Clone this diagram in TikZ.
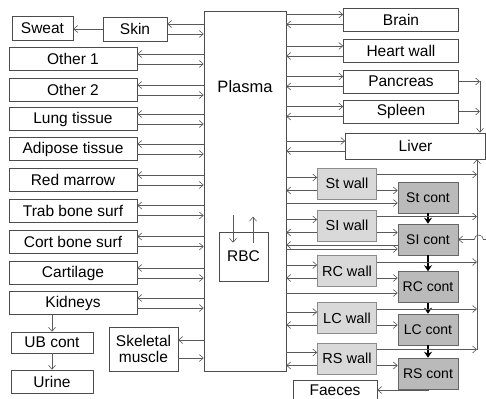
\documentclass[tikz,border=0pt]{standalone}
\usepackage{fontspec}
\setmainfont{Liberation Sans}
\usepackage{tikz}
\usetikzlibrary{arrows.meta, calc, positioning}
\newcommand\fsmain{\fontsize{15.5}{16}\selectfont}
\newcommand\fswall{\fontsize{14.5}{15}\selectfont}
\newcommand\fscont{\fontsize{14}{15}\selectfont}
\tikzset{
  box/.style={draw=black!70, fill=white, inner sep=0pt, font=\fsmain, line width=0.6pt},
  wallbox/.style={box, draw=black!45, fill=black!15, minimum width=59, minimum height=31, font=\fswall},
  contbox/.style={box, draw=black!60, fill=black!27, minimum width=60, minimum height=31, font=\fscont},
  fw/.style={draw=black!65, line width=0.6pt, -{Straight Barb[length=4pt,width=7pt]}},
  bw/.style={draw=black!65, line width=0.6pt, {Straight Barb[length=4pt,width=7pt]}-},
  chain/.style={line width=1.4pt, -{Stealth[length=6pt,width=8pt]}}
}
\begin{document}
\begin{tikzpicture}[x=1pt, y=-1pt]
  \useasboundingbox[fill=white] (0,0) rectangle (486,398);

  % Plasma und RBC
  \node[box, minimum width=82, minimum height=360] (plasma) at (245,191) {};
  \node[font=\fontsize{16.5}{17}\selectfont] (plab) at (245,87) {Plasma};
  \node[box, minimum width=49, minimum height=49] (rbc) at (243.5,256.5) {RBC};

  % linke Organe
  \node[box, minimum width=61, minimum height=24] (sweat) at (42.5,28) {Sweat};
  \node[box, minimum width=64, minimum height=24] (skin) at (135,29) {Skin};
  \foreach \n/\y/\t in {oth1/59/Other 1, oth2/90/Other 2, lung/119/Lung tissue,
                        adip/149/Adipose tissue, marr/180/Red marrow,
                        trab/210.5/Trab bone surf, cort/241.5/Cort bone surf,
                        cart/273/Cartilage, kidn/303/Kidneys} {
    \node[box, minimum width=128, minimum height=23] (\n) at (73,\y) {\t};
  }
  \node[box, minimum width=82, minimum height=21] (ubc) at (52,342.5) {UB cont};
  \node[box, minimum width=82, minimum height=23] (urine) at (52,381.5) {Urine};
  \node[box, minimum width=69, minimum height=44, align=center] (skel) at (143.5,349)
    {Skeletal\\muscle};

  % rechte Organe
  \foreach \n/\y/\t in {brain/19.5/Brain, heart/51/Heart wall,
                        panc/81.5/Pancreas, spleen/111.5/Spleen} {
    \node[box, minimum width=115, minimum height=23] (\n) at (401,\y) {\t};
  }
  \node[box, minimum width=140, minimum height=26] (liver) at (415.5,146) {Liver};

  % Darmwand und Darminhalt
  \foreach \n/\y/\t in {stw/183.5/St wall, siw/225.5/SI wall, rcw/271/RC wall,
                        lcw/318/LC wall, rsw/358.5/RS wall} {
    \node[wallbox] (\n) at (347,\y) {\t};
  }
  \foreach \n/\y/\t in {stc/197.5/St cont, sic/239.5/SI cont, rcc/287/RC cont,
                        lcc/329.5/LC cont, rsc/373.5/RS cont} {
    \node[contbox] (\n) at (428,\y) {\t};
  }
  \node[box, minimum width=84, minimum height=19] (faeces) at (335,390) {Faeces};

  % Austausch mit Plasma
  \foreach \n in {skin,oth1,oth2,lung,adip,marr,trab,cort,cart,kidn} {
    \draw[bw] ([yshift=5pt]\n.east) coordinate (a) -- (a -| plasma.west);
    \draw[fw] ([yshift=-5pt]\n.east) coordinate (b) -- (b -| plasma.west);
  }
  \draw[bw] ([yshift=9pt]skel.east) coordinate (a) -- (a -| plasma.west);
  \draw[fw] ([yshift=-9pt]skel.east) coordinate (b) -- (b -| plasma.west);
  \foreach \n in {brain,heart,panc,spleen,liver} {
    \draw[bw] ([yshift=5pt]\n.west) coordinate (a) -- (a -| plasma.east);
    \draw[fw] ([yshift=-5pt]\n.west) coordinate (b) -- (b -| plasma.east);
  }
  \foreach \n/\c in {stw/stc, siw/sic, rcw/rcc, lcw/lcc, rsw/rsc} {
    \draw[bw] ([yshift=6pt]\n.west) coordinate (a) -- (a -| plasma.east);
    \draw[fw] ([yshift=-7pt]\n.west) coordinate (b) -- (b -| plasma.east);
    \draw[fw] ([yshift=-7pt]\n.east) coordinate (c) -- (c -| \c.west);
  }
  \draw[bw] ([yshift=-5.5pt]stc.west) coordinate (a) -- (a -| plasma.east);
  \draw[bw] ([yshift=-9.5pt]sic.west) coordinate (a) -- (a -| plasma.east);
  \draw[fw] ([yshift=-5.5pt]sic.west) coordinate (b) -- (b -| plasma.east);
  \draw[bw] ([yshift=-6pt]rcc.west) coordinate (a) -- (a -| plasma.east);

  % RBC
  \draw[fw] ([shift={(-10.5pt,17pt)}]rbc.north) -- ([shift={(-10.5pt,-11pt)}]rbc.north);
  \draw[fw] ([shift={(9.5pt,-11pt)}]rbc.north) -- ([shift={(9.5pt,15pt)}]rbc.north);

  % Ausscheidung
  \draw[fw] (skin.west) -- (skin.west -| sweat.east);
  \draw[fw] (kidn.south -| ubc.north) -- (ubc.north);
  \draw[fw] (ubc.south) -- (urine.north);
  \draw[fw] (rsc.south) -- (rsc.south |- faeces.east) -- (faeces.east);

  % Darminhalt
  \foreach \a/\b in {stc/sic, sic/rcc, rcc/lcc, lcc/rsc} {
    \draw[chain] (\a.south) -- (\b.north);
  }

  % Pfortader zur Leber
  \coordinate (hep) at (480,0);
  \draw[fw] (panc.east) -- (panc.east -| hep);
  \draw[fw] (spleen.east) -- (spleen.east -| hep);
  \draw[fw] (panc.east -| hep) -- (hep |- liver.north);
  \coordinate (pv) at (477,0);
  \foreach \n in {stw,siw,rcw,lcw,rsw} {
    \draw[fw] ([yshift=9pt]\n.east) coordinate (a) -- (a -| pv);
  }
  \path ([yshift=9pt]rsw.east) coordinate (pvb);
  \draw[fw] (pvb -| pv) -- (pv |- liver.south);

  % Galle
  \coordinate (bile) at ($(sic.east)+(29,0)$);
  \draw[fw] (bile) -- ++(-4,0) arc[start angle=0, end angle=180, radius=4.5pt]
    -- (sic.east);
\end{tikzpicture}
\end{document}
